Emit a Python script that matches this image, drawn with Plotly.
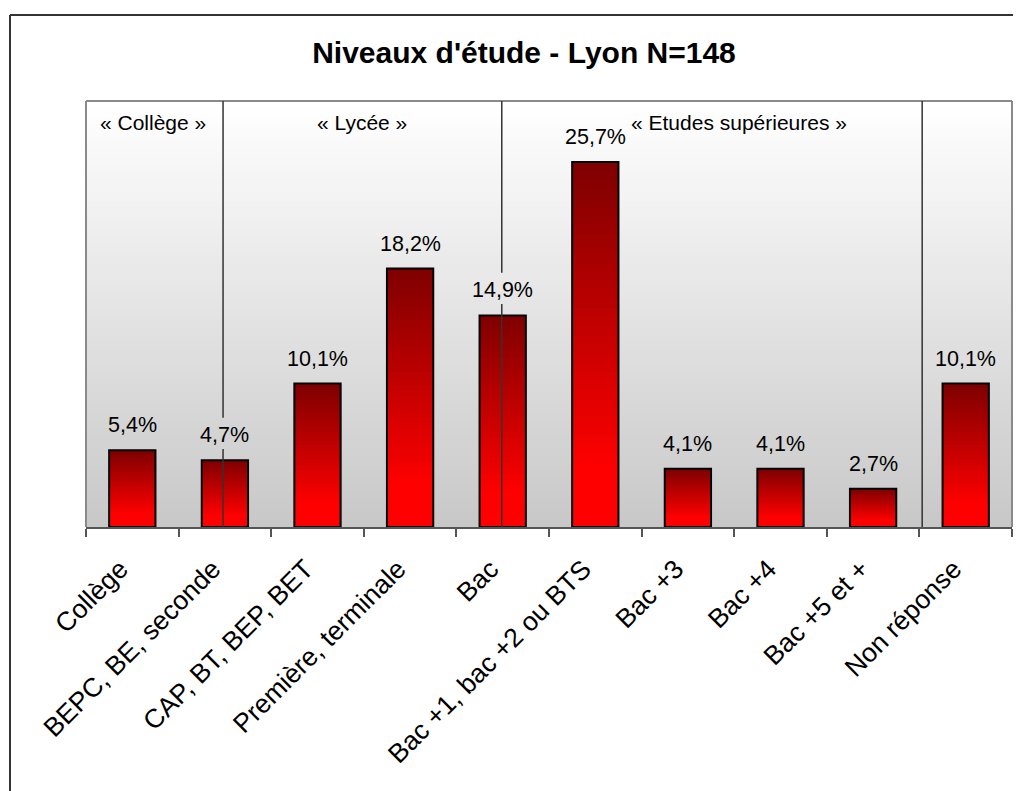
import plotly.graph_objects as go

categories = ["Collège", "BEPC, BE, seconde", "CAP, BT, BEP, BET", "Première, terminale", "Bac",
              "Bac +1, bac +2 ou BTS", "Bac +3", "Bac +4", "Bac +5 et +", "Non réponse"]
values = [5.4, 4.7, 10.1, 18.2, 14.9, 25.7, 4.1, 4.1, 2.7, 10.1]
labels = [f"{v:.1f}".replace(".", ",") + "%" for v in values]

group_names = ["« Collège »", "« Lycée »", "« Etudes supérieures »"]
group_pos = [0.22, 2.48, 6.55]
separators = [0.98, 3.99, 8.53]
separator_gap_idx = [1, 4, None]   # bar whose label interrupts the separator

title = "Niveaux d'étude - Lyon N=148"
FONT = "Arial, 'Liberation Sans', sans-serif"
YMAX = 30

# page has an 8px body margin; figure is sized to fill the rest of the window
W, H = 1013, 783
L, T, PW, PH = 78, 93, 926, 426

fig = go.Figure()

# gradient bars: stacked overlapping pieces
N = 40
for i in range(N):
    t = i / (N - 1)
    k = min(max((t - 0.15) / 0.85, 0), 1)
    r = int(round(255 - 127 * k))
    fig.add_trace(go.Bar(
        x=categories,
        y=[v * (1 - i / N) for v in values],
        base=[v * i / N for v in values],
        width=0.5,
        marker=dict(color=f"rgb({r},0,0)", line=dict(width=0)),
        hoverinfo="skip", showlegend=False,
    ))
# outline
fig.add_trace(go.Bar(
    x=categories, y=values, width=0.5,
    marker=dict(color="rgba(0,0,0,0)", line=dict(color="black", width=2)),
    showlegend=False,
))

shapes = []
# background gradient of plot area
M = 60
for j in range(M):
    c = int(round(255 - (255 - 200) * (1 - (j + 0.5) / M)))
    shapes.append(dict(type="rect", xref="paper", yref="paper",
                       x0=0, x1=1, y0=j / M, y1=(j + 1) / M + 0.002,
                       fillcolor=f"rgb({c},{c},{c})", line=dict(width=0), layer="below"))
# plot-area border (left, top, right)
for (x0, y0, x1, y1) in [(0, 0, 0, 1), (0, 1, 1, 1), (1, 0, 1, 1)]:
    shapes.append(dict(type="line", xref="paper", yref="paper", x0=x0, y0=y0, x1=x1, y1=y1,
                       line=dict(color="#8a8a8a", width=2), layer="above"))
# outer frame (left and top visible)
fx = (2 - L) / PW
fy = (T + PH - 7) / PH
shapes.append(dict(type="line", xref="paper", yref="paper", x0=fx, x1=fx, y0=-2, y1=fy,
                   line=dict(color="#333333", width=2)))
shapes.append(dict(type="line", xref="paper", yref="paper", x0=fx, x1=2, y0=fy, y1=fy,
                   line=dict(color="#333333", width=2)))
# separators
for sx, gi in zip(separators, separator_gap_idx):
    if gi is None:
        segs = [(0, YMAX)]
    else:
        v = values[gi]
        segs = [(0, v + 0.8), (v + 3.0, YMAX)]
    for a, b in segs:
        shapes.append(dict(type="line", xref="x", yref="y", x0=sx, x1=sx, y0=a, y1=b,
                           line=dict(color="#333333", width=1.5), layer="above"))

annotations = []
for c, v, lab in zip(categories, values, labels):
    annotations.append(dict(x=c, y=v, text=lab, showarrow=False, xref="x", yref="y",
                            yanchor="bottom", yshift=11,
                            font=dict(family=FONT, size=21.5, color="black")))
for g, gx in zip(group_names, group_pos):
    annotations.append(dict(x=gx, y=(PH - 21) / PH, xref="x", yref="paper", text=g,
                            showarrow=False, yanchor="middle",
                            font=dict(family=FONT, size=21, color="black")))

fig.update_layout(
    width=W, height=H, autosize=False,
    margin=dict(l=L, r=W - L - PW, t=T, b=H - T - PH),
    paper_bgcolor="white", plot_bgcolor="white",
    barmode="overlay",
    title=dict(text=f"<b>{title}</b>", x=0.473, xref="paper", xanchor="center",
               y=1 - 44 / H, yanchor="middle",
               font=dict(family=FONT, size=30, color="black")),
    xaxis=dict(type="category", tickangle=-45, tickson="boundaries",
               ticks="outside", ticklen=8, tickwidth=2, tickcolor="#555555",
               showline=True, linecolor="#555555", linewidth=2,
               showgrid=False, zeroline=False,
               ticklabelstandoff=14, ticklabelshift=-12,
               tickfont=dict(family=FONT, size=26.5, color="black"),
               range=[-0.5, 9.5]),
    yaxis=dict(range=[0, YMAX], showticklabels=False, showgrid=False, zeroline=False,
               ticks="", showline=False),
    shapes=shapes, annotations=annotations, showlegend=False,
)

fig.write_html("out.html")
